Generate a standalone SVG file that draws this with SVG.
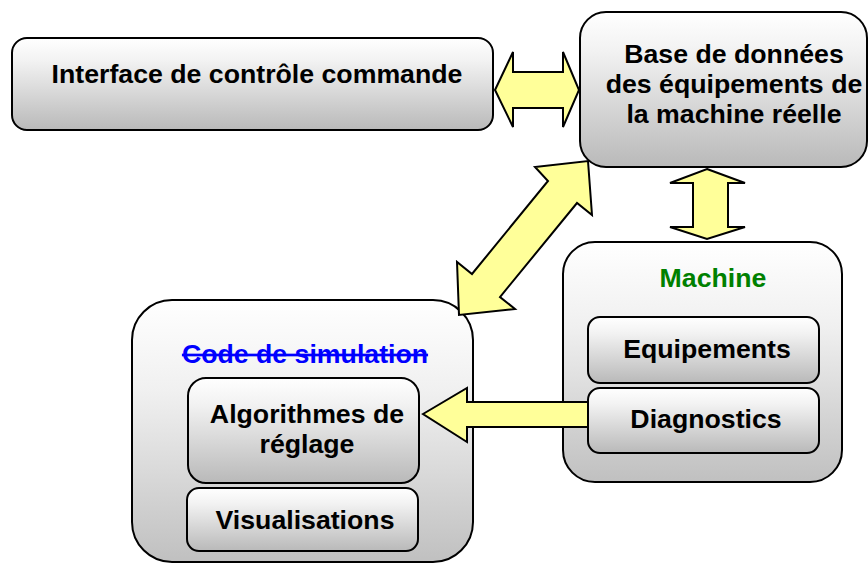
<svg xmlns="http://www.w3.org/2000/svg" width="868" height="563" viewBox="0 0 868 563">
  <defs>
    <linearGradient id="boxFill" x1="0" y1="0" x2="0" y2="1">
      <stop offset="0" stop-color="#ffffff"/>
      <stop offset="0.25" stop-color="#f2f2f2"/>
      <stop offset="1" stop-color="#b9b9b9"/>
    </linearGradient>
    <linearGradient id="outerFill" x1="0" y1="0" x2="0" y2="1">
      <stop offset="0" stop-color="#ffffff"/>
      <stop offset="0.35" stop-color="#f0f0f0"/>
      <stop offset="1" stop-color="#c0c0c0"/>
    </linearGradient>
    <style>
      .box { fill: url(#boxFill); stroke: #000; stroke-width: 2; }
      .outer { fill: url(#outerFill); stroke: #000; stroke-width: 2; }
      .arrow { fill: #ffff99; stroke: #000; stroke-width: 2; stroke-linejoin: miter; }
      .lbl { font-family: "Liberation Sans", Arial, sans-serif; font-weight: bold; font-size: 26.7px; fill: #000; text-anchor: middle; }
      .title-green { fill: #008000; }
      .title-blue { fill: #0000ff; text-decoration: line-through; }
    </style>
  </defs>

  <g id="interface">
    <rect class="box" x="12" y="38" width="481" height="92" rx="15" ry="15"/>
    <text class="lbl" x="257" y="83">Interface de contrôle commande</text>
  </g>

  <g id="base-donnees">
    <rect class="box" x="580" y="12" width="287" height="155" rx="26" ry="26"/>
    <text class="lbl" x="734" y="63">Base de données</text>
    <text class="lbl" x="734" y="93">des équipements de</text>
    <text class="lbl" x="734" y="123">la machine réelle</text>
  </g>

  <g id="machine">
    <rect class="outer" x="563" y="242" width="279" height="240" rx="32" ry="32"/>
    <text class="lbl title-green" x="713" y="287">Machine</text>
  </g>

  <g id="code-simulation">
    <rect class="outer" x="132" y="300" width="341" height="262" rx="40" ry="40"/>
    <text class="lbl title-blue" x="305" y="363">Code de simulation</text>
  </g>

  <g id="algorithmes">
    <rect class="box" x="188" y="378" width="231" height="105" rx="18" ry="18"/>
    <text class="lbl" x="307" y="423">Algorithmes de</text>
    <text class="lbl" x="307" y="453">réglage</text>
  </g>

  <g id="visualisations">
    <rect class="box" x="187" y="488" width="231" height="63" rx="12" ry="12"/>
    <text class="lbl" x="305" y="529">Visualisations</text>
  </g>

  <g id="equipements">
    <rect class="box" x="588" y="317" width="231" height="66" rx="12" ry="12"/>
    <text class="lbl" x="707" y="358">Equipements</text>
  </g>

  <g id="connectors">
    <!-- interface <-> base de données -->
    <polygon class="arrow" points="495,90 513,52 513,72 563,72 563,52 579,90 563,127 563,108 513,108 513,127"/>
    <!-- base de données <-> machine -->
    <polygon class="arrow" points="707,169 745,183 728,183 728,227 745,227 707,239 670,227 693,227 693,183 670,183"/>
    <!-- base de données <-> code de simulation -->
    <polygon class="arrow" points="588,161 592,215 577,203 500,297 515,309 459,315 457,262 472,274 548,181 535,167"/>
    <!-- diagnostics -> algorithmes -->
    <polygon class="arrow" points="423,414 467,388 467,402 600,402 600,427 467,427 467,442"/>
  </g>

  <g id="diagnostics">
    <rect class="box" x="588" y="388" width="231" height="65" rx="12" ry="12"/>
    <text class="lbl" x="706" y="428">Diagnostics</text>
  </g>
</svg>
